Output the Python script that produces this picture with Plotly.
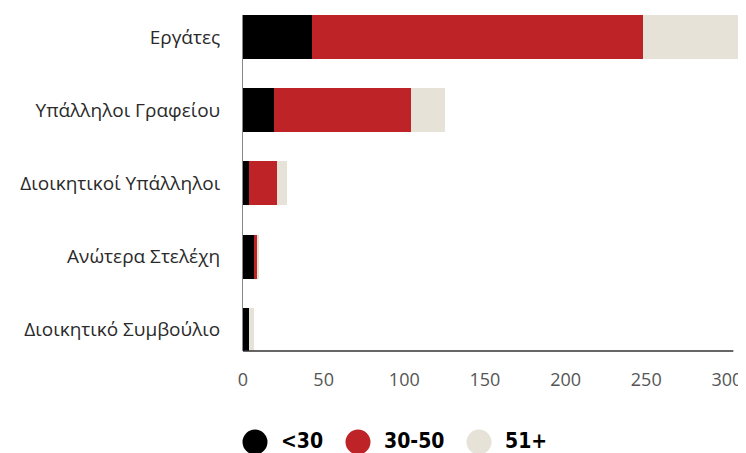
import plotly.graph_objects as go

# categories, top to bottom
categories = ["Εργάτες", "Υπάλληλοι Γραφείου", "Διοικητικοί Υπάλληλοι",
              "Ανώτερα Στελέχη", "Διοικητικό Συμβούλιο"]

# age groups
series_names = ["<30", "30-50", "51+"]
series_colors = ["#000000", "#BE2328", "#E6E2D8"]

under30 = [43, 19, 4, 7, 4]
age30_50 = [205, 85, 17, 2, 0]
over51 = [62, 21, 6, 1, 3]

x_ticks = [0, 50, 100, 150, 200, 250, 300]

fig = go.Figure()
for name, vals, col in zip(series_names, [under30, age30_50, over51], series_colors):
    fig.add_trace(go.Bar(y=categories, x=vals, name=name, orientation="h",
                         marker=dict(color=col, line=dict(width=0)),
                         showlegend=False))

# page has an 8px body margin, so the figure is a bit smaller than the window
fig.update_layout(
    barmode="stack",
    bargap=0.4,
    width=738, height=445,
    margin=dict(l=235, r=3, t=7, b=102),
    plot_bgcolor="white", paper_bgcolor="white",
    font=dict(family="Open Sans", size=19, color="#222"),
)
fig.update_xaxes(range=[0, 310], tickvals=x_ticks, showgrid=False, zeroline=False,
                 showline=False, ticklabelstandoff=16, automargin=False,
                 tickfont=dict(size=18, color="#555"))
fig.update_yaxes(range=[4.29, -0.30], showgrid=False, showline=True, linecolor="#888",
                 linewidth=1, ticklabelstandoff=18, automargin=False,
                 tickfont=dict(size=19, color="#2a2a2a"))

# bottom axis line stops a little short of the longest bar
fig.add_shape(type="line", xref="x", yref="paper", x0=0, x1=304, y0=0, y1=0,
              line=dict(color="#333", width=1.5))

# custom legend with large circles
legend_x = [255, 358, 479]
for px, name, col in zip(legend_x, series_names, series_colors):
    fig.add_shape(type="circle", xref="paper", yref="paper",
                  x0=(px - 12.5 - 243) / 500, x1=(px + 12.5 - 243) / 500,
                  y0=(351 - 454.5) / 336, y1=(351 - 429.5) / 336,
                  fillcolor=col, line=dict(width=0))
    fig.add_annotation(x=(px + 24 - 243) / 500, y=(351 - 441) / 336,
                       xref="paper", yref="paper", text="<b>" + name.replace("<", "&lt;") + "</b>",
                       showarrow=False, xanchor="left", yanchor="middle",
                       font=dict(family="Liberation Sans Narrow, DejaVu Sans Condensed",
                                 size=21, color="#000"))

fig.write_html("out.html")
